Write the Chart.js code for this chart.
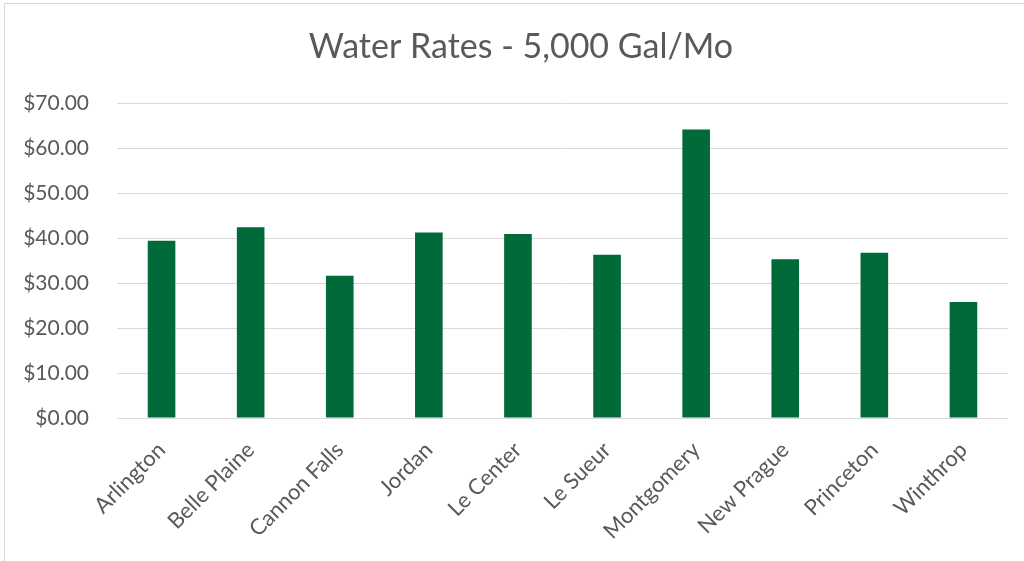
<!DOCTYPE html>
<html>
<head>
<meta charset="utf-8">
<script src="https://cdn.jsdelivr.net/npm/chart.js@4"></script>
<style>
  html, body { margin: 0; padding: 0; background: #fff; }
  #wrap { position: relative; width: 1024px; height: 561px; overflow: hidden; }
  #frame { position: absolute; left: 4px; top: 3px; width: 1040px; height: 580px; border: 1px solid #d9d9d9; box-sizing: border-box; }
  canvas { position: absolute; left: 0; top: 0; }
</style>
</head>
<body>
<div id="wrap">
  <div id="frame"></div>
  <canvas id="rates" width="1024" height="561"></canvas>
</div>
<script>
const cities = ["Arlington", "Belle Plaine", "Cannon Falls", "Jordan", "Le Center",
  "Le Sueur", "Montgomery", "New Prague", "Princeton", "Winthrop"];
const rates = [39.4, 42.4, 31.6, 41.2, 40.9, 36.3, 64.1, 35.3, 36.7, 25.8];
const yTicks = [0, 10, 20, 30, 40, 50, 60, 70];
const chartTitle = "Water Rates - 5,000 Gal/Mo";

const grey = "#595959";
const font = "Lato, 'Open Sans', sans-serif";

// title sits a bit right of the canvas centre (chart box is wider than the page)
const titlePlugin = {
  id: "offsetTitle",
  afterDraw(chart) {
    const ctx = chart.ctx;
    ctx.save();
    ctx.fillStyle = grey;
    ctx.font = "34px " + font;
    ctx.textAlign = "center";
    ctx.textBaseline = "middle";
    ctx.fillText(chartTitle, 521, 47);
    ctx.restore();
  }
};

new Chart(document.getElementById("rates"), {
  type: "bar",
  data: {
    labels: cities,
    datasets: [{
      data: rates,
      backgroundColor: "#006a38",
      borderWidth: 0,
      categoryPercentage: 1,
      barPercentage: 0.31
    }]
  },
  plugins: [titlePlugin],
  options: {
    responsive: false,
    animation: false,
    layout: { padding: { left: 0, right: 16, top: 103, bottom: 0 } },
    plugins: {
      legend: { display: false },
      tooltip: { enabled: false },
      title: { display: false }
    },
    scales: {
      x: {
        grid: { display: false },
        border: { display: false },
        ticks: {
          color: grey,
          font: { family: font, size: 22 },
          minRotation: 45,
          maxRotation: 45,
          padding: 11
        },
        afterFit: s => { s.height = 143; }
      },
      y: {
        min: 0,
        max: 70,
        afterBuildTicks: s => { s.ticks = yTicks.map(v => ({ value: v })); },
        grid: { color: "#d9d9d9", lineWidth: 1, drawTicks: false },
        border: { display: false },
        ticks: {
          color: grey,
          font: { family: font, size: 21 },
          padding: 28,
          callback: v => "$" + Number(v).toFixed(2)
        },
        afterFit: s => { s.width = 117; }
      }
    }
  }
});
</script>
</body>
</html>
